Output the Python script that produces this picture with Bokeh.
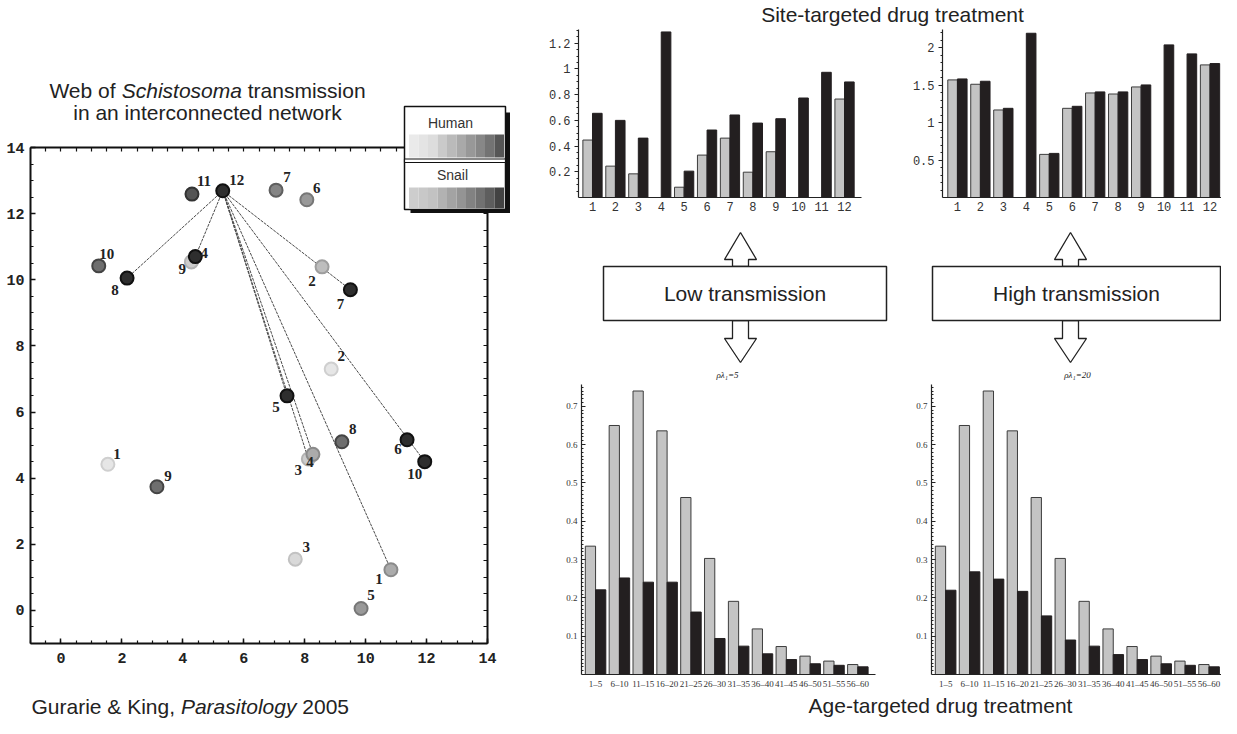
import numpy as np
from bokeh.plotting import figure
from bokeh.models import (Range1d, LinearAxis, SingleIntervalTicker, FixedTicker,
                          NumeralTickFormatter, ColumnDataSource, LabelSet, Label,
                          BoxAnnotation)
from bokeh.layouts import row, column
from bokeh.embed import file_html
from bokeh.resources import INLINE

# ---------------------------------------------------------------- data
node_label = ["11", "12", "7", "6", "10", "8", "9", "4", "2", "7", "2",
              "5", "8", "6", "10", "3", "4", "1", "9", "3", "1", "5"]
node_x = [4.30, 5.31, 7.06, 8.07, 1.24, 2.17, 4.28, 4.41, 8.57, 9.50, 8.87,
          7.42, 9.22, 11.36, 11.94, 8.12, 8.27, 1.54, 3.15, 7.69, 10.83, 9.85]
node_y = [12.59, 12.69, 12.71, 12.42, 10.42, 10.05, 10.54, 10.70, 10.39, 9.70, 7.30,
          6.49, 5.10, 5.16, 4.50, 4.58, 4.72, 4.42, 3.74, 1.55, 1.23, 0.06]
node_level = [8, 9, 6, 5, 7, 9, 2, 9, 3, 9, 0, 9, 7, 9, 9, 2, 4, 0, 7, 1, 4, 5]
edge_from = [1, 1, 1, 1, 1, 1, 1, 1]
edge_to = [5, 7, 9, 14, 20, 11, 15, 16]

sites = ["1", "2", "3", "4", "5", "6", "7", "8", "9", "10", "11", "12"]
low_site_grey = [0.447, 0.244, 0.184, 0, 0.080, 0.330, 0.462, 0.197, 0.356, 0, 0, 0.766]
low_site_black = [0.655, 0.600, 0.462, 1.288, 0.205, 0.525, 0.642, 0.579, 0.613, 0.774, 0.974, 0.899]
high_site_grey = [1.568, 1.510, 1.167, 0, 0.575, 1.189, 1.394, 1.380, 1.474, 0, 0, 1.768]
high_site_black = [1.581, 1.550, 1.189, 2.190, 0.588, 1.216, 1.408, 1.408, 1.501, 2.035, 1.915, 1.786]

ages = ["1\u20135", "6\u201310", "11\u201315", "16\u201320", "21\u201325", "26\u201330",
        "31\u201335", "36\u201340", "41\u201345", "46\u201350", "51\u201355", "56\u201360"]
age_grey = [0.335, 0.650, 0.740, 0.636, 0.462, 0.303, 0.191, 0.119, 0.073, 0.048, 0.035, 0.026]
age_low_black = [0.221, 0.252, 0.241, 0.241, 0.163, 0.094, 0.074, 0.054, 0.039, 0.028, 0.024, 0.020]
age_high_black = [0.220, 0.268, 0.249, 0.217, 0.153, 0.090, 0.074, 0.052, 0.039, 0.028, 0.024, 0.020]

# ---------------------------------------------------------------- styles
SANS = "Liberation Sans"
MONO = "Liberation Mono"
SERIF = "Liberation Serif"
BIG = "21px"
BLACK = "#231f20"
GREY = "#c4c4c4"
EDGE = "#3c3c3c"
node_pal = ["#e6e6e6", "#d9d9d9", "#cccccc", "#bdbdbd", "#ababab",
            "#999999", "#858585", "#6e6e6e", "#555555", "#2e2e2e"]
node_line = ["#cfcfcf", "#c2c2c2", "#b3b3b3", "#9e9e9e", "#8a8a8a",
             "#777777", "#5f5f5f", "#444444", "#333333", "#111111"]
human_cells = ["#eaeaea", "#e4e4e4", "#dddddd", "#cacaca", "#bababa",
               "#a9a9a9", "#989898", "#878787", "#737373", "#565656"]
snail_cells = ["#cdcdcd", "#c8c8c8", "#c2c2c2", "#b2b2b2", "#a3a3a3",
               "#949494", "#828282", "#717171", "#5e5e5e", "#434343"]
# label placement (screen px, dy positive = down)
label_dx = [12, 14, 11, 10, 8, -12, -9, 9, -10, -10, 10, -11, 11, -9, -10, -10, -3, 9, 11, 11, -12, 10]
label_dy = [-13, -11, -13, -12, -12, 12, 7, -4, 14, 14, -13, 11, -13, 9, 12, 11, 8, -10, -11, -12, 9, -13]


# page-pixel -> network data coordinates (frame box -1..14 spans x 38..495, y 651..155)
def X(px):
    return -1 + (px - 38) * 15 / 457


def Y(py):
    return 14 - (py - 155) * 15 / 496


def lab(p, x, y, text, size=BIG, style="normal", align="left", baseline="alphabetic",
        font=SANS, color="#222222"):
    p.add_layout(Label(x=x, y=y, text=text, text_font=font, text_font_size=size,
                       text_font_style=style, text_align=align, text_baseline=baseline,
                       text_color=color))


# ================================================================ left: network
p1 = figure(width=522, height=718, x_range=Range1d(X(8), X(530)), y_range=Range1d(Y(726), Y(8)),
            min_border=0, x_axis_location=None, y_axis_location=None,
            output_backend="svg", toolbar_location=None)
p1.grid.visible = False
p1.outline_line_color = None


def frame_axis(ax):
    ax.axis_line_color = "#111111"
    ax.axis_line_width = 2
    ax.major_tick_line_color = "#111111"
    ax.major_tick_line_width = 1.5
    ax.minor_tick_line_color = "#111111"
    ax.minor_tick_line_width = 1.2
    ax.major_tick_out = 0
    ax.minor_tick_out = 0
    ax.major_label_text_font = MONO
    ax.major_label_text_font_style = "bold"
    ax.major_label_text_color = "#222222"
    ax.major_label_text_font_size = "15px"


for loc, side, standoff in ((-1, "below", 9), (-1, "left", 6)):
    ax = LinearAxis(fixed_location=loc, bounds=(-1, 14),
                    ticker=SingleIntervalTicker(interval=2, num_minor_ticks=4))
    frame_axis(ax)
    ax.major_tick_in = 5
    ax.minor_tick_in = 3
    ax.major_label_standoff = standoff
    p1.add_layout(ax, side)

for side in ("above", "right"):
    ax = LinearAxis(fixed_location=14, bounds=(-1, 14),
                    ticker=FixedTicker(ticks=[], minor_ticks=list(np.arange(-0.5, 14.01, 0.5))))
    frame_axis(ax)
    ax.minor_tick_in = 4
    p1.add_layout(ax, side)

ex0 = [node_x[i] for i in edge_from]
ey0 = [node_y[i] for i in edge_from]
ex1 = [node_x[i] for i in edge_to]
ey1 = [node_y[i] for i in edge_to]
p1.segment(x0=ex0, y0=ey0, x1=ex1, y1=ey1, line_color="#4a4a4a", line_width=1, line_dash="3 1")

nsrc = ColumnDataSource(dict(
    x=node_x, y=node_y, label=node_label,
    fill=[node_pal[l] for l in node_level],
    line=[node_line[l] for l in node_level],
    dx=label_dx, dy=[-d for d in label_dy]))
p1.scatter(x="x", y="y", source=nsrc, marker="circle", size=13,
           fill_color="fill", line_color="line", line_width=2)
p1.add_layout(LabelSet(x="x", y="y", text="label", source=nsrc, x_offset="dx", y_offset="dy",
                       text_align="center", text_baseline="middle", text_font=MONO,
                       text_font_style="bold", text_font_size="15px", text_color="#222222"))

# title (with italic genus)
lab(p1, X(56.9), Y(98), "Web of")
lab(p1, X(129.2), Y(98), "Schistosoma", style="italic")
lab(p1, X(255.2), Y(98), "transmission")
lab(p1, X(215), Y(120), "in an interconnected network", align="center")
# caption
lab(p1, X(39), Y(714), "Gurarie & King,")
lab(p1, X(188.4), Y(714), "Parasitology", style="italic")
lab(p1, X(309.8), Y(714), "2005")

# legend box
p1.add_layout(BoxAnnotation(left=X(513), right=X(517.5), top=Y(120), bottom=Y(220.5),
                            fill_color="#111111", fill_alpha=1, line_alpha=0))
p1.add_layout(BoxAnnotation(left=X(418), right=X(517.5), top=Y(216), bottom=Y(220.5),
                            fill_color="#111111", fill_alpha=1, line_alpha=0))
p1.add_layout(BoxAnnotation(left=X(412), right=X(513), top=Y(114), bottom=Y(217),
                            fill_color="white", fill_alpha=1, line_color="#111111",
                            line_alpha=1, line_width=1.5))
p1.add_layout(BoxAnnotation(left=X(412), right=X(513), top=Y(166.5), bottom=Y(170),
                            fill_color="white", fill_alpha=1, line_color="#111111",
                            line_alpha=1, line_width=1.2))
cell_w = 95 / 10
for k in range(10):
    x0 = 416.5 + k * cell_w
    p1.add_layout(BoxAnnotation(left=X(x0), right=X(x0 + cell_w), top=Y(142), bottom=Y(165),
                                fill_color=human_cells[k], fill_alpha=1, line_alpha=0))
    p1.add_layout(BoxAnnotation(left=X(x0), right=X(x0 + cell_w), top=Y(195), bottom=Y(216),
                                fill_color=snail_cells[k], fill_alpha=1, line_alpha=0))
lab(p1, X(458), Y(130), "Human", size="14px", align="center", baseline="middle", color="#333333")
lab(p1, X(460), Y(182), "Snail", size="14px", align="center", baseline="middle", color="#333333")


# ================================================================ right: bar charts
def add_bars(p, grey, black, off, w):
    idx = np.arange(1, len(black) + 1)
    g = np.asarray(grey, dtype=float)
    b = np.asarray(black, dtype=float)
    keep = g > 0
    p.vbar(x=idx[keep] - off, top=g[keep], bottom=0, width=w,
           fill_color=GREY, line_color=EDGE, line_width=1)
    p.vbar(x=idx + off, top=b, bottom=0, width=w,
           fill_color=BLACK, line_color=BLACK, line_width=1)


def bar_fig(xr, yr, fw, fh, bl, br, bt, bb):
    p = figure(frame_width=fw, frame_height=fh, x_range=Range1d(*xr), y_range=Range1d(*yr),
               min_border_left=bl, min_border_right=br, min_border_top=bt, min_border_bottom=bb,
               output_backend="svg", toolbar_location=None)
    p.grid.visible = False
    p.outline_line_color = None
    return p


def style_axes(p, yticks, yminor, font, size, cats, tick_out=True):
    ya = p.yaxis[0]
    xa = p.xaxis[0]
    ya.ticker = FixedTicker(ticks=yticks, minor_ticks=yminor)
    ya.formatter = NumeralTickFormatter(format="0.[0]")
    if tick_out:
        ya.major_tick_out, ya.major_tick_in, ya.minor_tick_out, ya.minor_tick_in = 4, 0, 2, 0
    else:
        ya.major_tick_out, ya.major_tick_in, ya.minor_tick_out, ya.minor_tick_in = 0, 4, 0, 2
    ya.major_label_standoff = 4
    xa.ticker = FixedTicker(ticks=list(range(1, len(cats) + 1)))
    xa.major_label_overrides = {i + 1: c for i, c in enumerate(cats)}
    xa.major_tick_out = 0
    xa.major_tick_in = 0
    xa.minor_tick_out = 0
    xa.minor_tick_in = 0
    xa.major_label_standoff = 4
    for a in (xa, ya):
        a.axis_line_color = "#222222"
        a.axis_line_width = 1.2
        a.major_tick_line_color = "#222222"
        a.minor_tick_line_color = "#222222"
        a.major_label_text_font = font
        a.major_label_text_font_size = size
        a.major_label_text_color = "#333333"


# top-left: low transmission, site targeted
tl = bar_fig((0.389, 12.74), (0, 1.307), 283, 168, 56, 36, 1, 27)
add_bars(tl, low_site_grey, low_site_black, 0.21, 0.42)
style_axes(tl, [0.2, 0.4, 0.6, 0.8, 1.0, 1.2], list(np.arange(0.05, 1.31, 0.05)), MONO, "12px", sites)

# top-right: high transmission, site targeted
tr = bar_fig((0.35, 12.5), (0, 2.24), 279, 168, 45, 0, 1, 27)
add_bars(tr, high_site_grey, high_site_black, 0.21, 0.42)
style_axes(tr, [0.5, 1.0, 1.5, 2.0], list(np.arange(0.1, 2.21, 0.1)), MONO, "12px", sites)

# bottom-left: low transmission, age targeted
bl = bar_fig((0.41, 12.74), (0, 0.757), 294, 290, 59, 22, 4, 18)
add_bars(bl, age_grey, age_low_black, 0.215, 0.43)
style_axes(bl, [0.1, 0.2, 0.3, 0.4, 0.5, 0.6, 0.7], list(np.arange(0.01, 0.755, 0.01)),
           SERIF, "9px", ages, tick_out=False)

# bottom-right: high transmission, age targeted
br = bar_fig((0.41, 12.52), (0, 0.757), 290, 290, 34, 0, 4, 18)
add_bars(br, age_grey, age_high_black, 0.215, 0.43)
style_axes(br, [0.1, 0.2, 0.3, 0.4, 0.5, 0.6, 0.7], list(np.arange(0.01, 0.755, 0.01)),
           SERIF, "9px", ages, tick_out=False)


# ---------------------------------------------------------------- text strips and diagram
def blank_fig(w, h):
    p = figure(width=w, height=h, x_range=Range1d(0, w), y_range=Range1d(0, h), min_border=0,
               x_axis_location=None, y_axis_location=None, output_backend="svg",
               toolbar_location=None)
    p.grid.visible = False
    p.outline_line_color = None
    return p


title_fig = blank_fig(699, 28)
lab(title_fig, 370, 14, "Site-targeted drug treatment", align="center", baseline="middle")

cap_fig = blank_fig(699, 26)
lab(cap_fig, 418, 13, "Age-targeted drug treatment", align="center", baseline="middle")

mid = blank_fig(699, 156)
BOX_B, BOX_T = 60, 114
HEAD_UP_BASE, TIP_UP = 121, 148
HEAD_DN_BASE, TIP_DN = 42, 18
SHAFT, HEAD = 8, 16
boxes = [(81, 364, "Low transmission", 218, "\u03c1\u03bb\u2081=5", 205),
         (410, 698, "High transmission", 548, "\u03c1\u03bb\u2081=20", 555)]
for (x0, x1, txt, cx, rho, rx) in boxes:
    up_x = [cx - SHAFT, cx - SHAFT, cx - HEAD, cx, cx + HEAD, cx + SHAFT, cx + SHAFT]
    up_y = [BOX_T, HEAD_UP_BASE, HEAD_UP_BASE, TIP_UP, HEAD_UP_BASE, HEAD_UP_BASE, BOX_T]
    dn_x = [cx - SHAFT, cx - SHAFT, cx - HEAD, cx, cx + HEAD, cx + SHAFT, cx + SHAFT]
    dn_y = [BOX_B, HEAD_DN_BASE, HEAD_DN_BASE, TIP_DN, HEAD_DN_BASE, HEAD_DN_BASE, BOX_B]
    mid.patches(xs=[up_x, dn_x], ys=[up_y, dn_y], fill_color="white", line_color="#222222",
                line_width=1.3)
    mid.quad(left=x0, right=x1, bottom=BOX_B, top=BOX_T, fill_color="white",
             line_color="#222222", line_width=1.5)
    lab(mid, (x0 + x1) / 2, (BOX_B + BOX_T) / 2, txt, align="center", baseline="middle")
    lab(mid, rx, 6, rho, size="9px", style="italic", align="center", baseline="middle",
        font=SERIF)

right_col = column(title_fig, row(tl, tr), mid, row(bl, br), cap_fig)
layout = row(p1, right_col)

open("out.html", "w").write(file_html(layout, INLINE))
